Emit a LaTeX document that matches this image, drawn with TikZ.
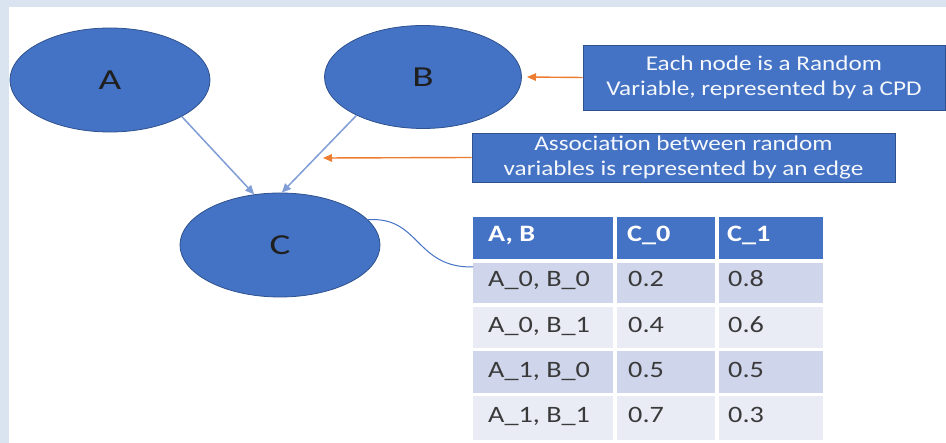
\documentclass[tikz,border=0pt]{standalone}
\usepackage{fontspec}
\setmainfont{Carlito}[FakeStretch=1.2]
\newfontfamily\widefont{Carlito}[FakeStretch=1.35]
\usetikzlibrary{shapes.geometric,arrows.meta}
\definecolor{frame}{HTML}{DAE3F0}
\definecolor{accent}{HTML}{4472C4}
\definecolor{accentdark}{HTML}{2F528F}
\definecolor{edgeblue}{HTML}{819DD6}
\definecolor{callout}{HTML}{ED7D31}
\definecolor{rowdark}{HTML}{CFD5EA}
\definecolor{rowlight}{HTML}{E9EBF5}
\definecolor{cellink}{HTML}{3A3A3A}

\begin{document}
\begin{tikzpicture}[x=1pt,y=-1pt,
  var/.style={ellipse, draw=accentdark, line width=0.8pt, fill=accent,
    minimum width=200pt, minimum height=104pt, inner sep=0pt,
    font=\widefont\fontsize{29}{31}\selectfont, text=black!88},
  note/.style={draw=accentdark, line width=0.8pt, fill=accent,
    text=white!94!accent, align=center, inner sep=0pt,
    font=\fontsize{21}{25}\selectfont},
  link/.style={draw=edgeblue, line width=1.5pt, -{Triangle[length=9pt,width=8pt]}},
  pointer/.style={draw=callout, line width=1.4pt, -{Triangle[length=9pt,width=7.5pt]}},
  cell/.style={anchor=base west, inner sep=0pt, text=cellink,
    font=\fontsize{23.5}{26}\selectfont},
  headcell/.style={cell, text=white, font=\fontsize{23.5}{26}\selectfont\bfseries},
]
% page background with its light frame
\fill[frame] (0,0) rectangle (946,443);
\fill[white] (9,7) rectangle (946,443);
\useasboundingbox (0,0) rectangle (946,443);

% random variables
\node[var] (A) at (110,80) {A};
\node[var, minimum width=197pt, minimum height=103pt] (B) at (423,77) {B};
\node[var] (C) at (280,245) {C};

% explanatory notes
\node[note, minimum width=362pt, minimum height=65pt] (n1) at (764,77.5)
  {Each node is a Random\\Variable, represented by a CPD};
\node[note, minimum width=423pt, minimum height=49pt] (n2) at (683.5,157.5)
  {Association between random\\variables is represented by an edge};

% conditional probability table of C
\fill[accent]   (473,217)   rectangle (823,261);
\fill[rowdark]  (473,261)   rectangle (823,305);
\fill[rowlight] (473,305)   rectangle (823,349.5);
\fill[rowdark]  (473,349.5) rectangle (823,394.5);
\fill[rowlight] (473,394.5) rectangle (823,440);
\draw[white, line width=3.5pt]
  (473,261) -- (823,261)
  (473,305) -- (823,305)
  (473,349.5) -- (823,349.5)
  (473,394.5) -- (823,394.5)
  (615,217) -- (615,440)
  (717,217) -- (717,440);

\node[headcell] (h1) at (488,242) {A, B};
\node[headcell] (h2) at (627,242) {C\_0};
\node[headcell] (h3) at (727,242) {C\_1};

\foreach \y/\ab/\cz/\co [count=\i] in
  {287/{A\_0, B\_0}/0.2/0.8,
   333/{A\_0, B\_1}/0.4/0.6,
   378/{A\_1, B\_0}/0.5/0.5,
   423/{A\_1, B\_1}/0.7/0.3}{
  \node[cell] (r\i c1) at (488,\y) {\ab};
  \node[cell] (r\i c2) at (628,\y) {\cz};
  \node[cell] (r\i c3) at (728,\y) {\co};
}

% edges of the network
\draw[link] (A.-27) -- (C.117);
\draw[link] (B.210) -- (C.88);

% pointers from the notes
\coordinate (p1) at (527,77);
\coordinate (p2) at (323,158);
\draw[pointer] (n1.west) -- (p1);
\draw[pointer] (n2.west) -- (p2);

% C is linked to its table
\coordinate (tbl) at (473,267);
\draw[accent, line width=1pt] (C.16) .. controls (420,216) and (415,268) .. (tbl);
\end{tikzpicture}
\end{document}
